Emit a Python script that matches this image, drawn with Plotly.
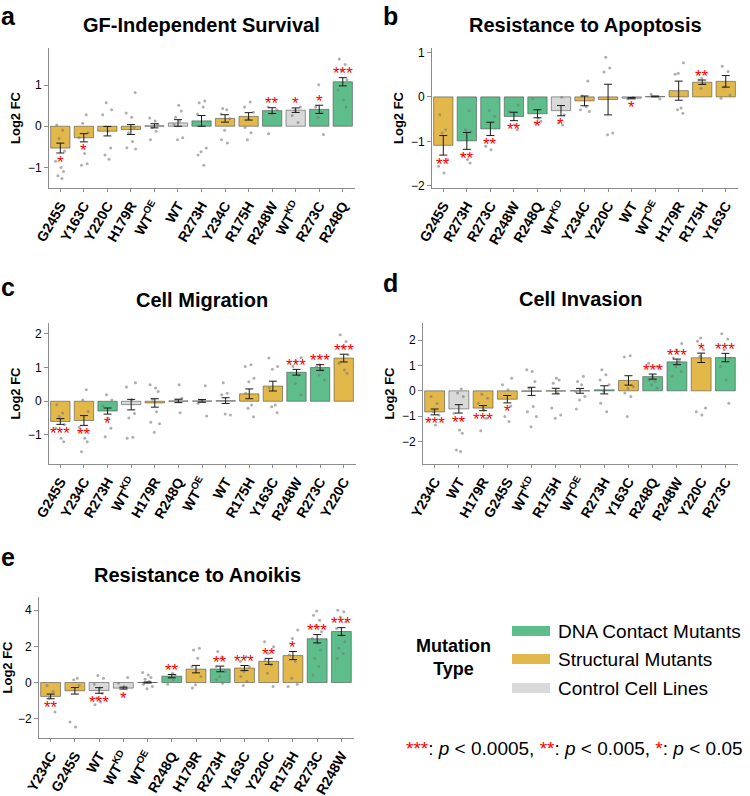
import plotly.graph_objects as go

W, H = 750, 796
FONT = "Liberation Sans, Arial, Helvetica, sans-serif"

GREEN = "#5DBE8B"
GOLD = "#E2B84B"
GREY = "#D9D9D9"
TYPE_COLOR = {"D": GREEN, "S": GOLD, "C": GREY}

# ---------------- data ----------------
a_title = "GF-Independent Survival"
a_labels = ["G245S", "Y163C", "Y220C", "H179R", "WT<sup>OE</sup>", "WT", "R273H", "Y234C",
            "R175H", "R248W", "WT<sup>KD</sup>", "R273C", "R248Q"]
a_types = ["S", "S", "S", "S", "C", "C", "D", "S", "S", "D", "C", "D", "D"]
a_mean = [-0.53, -0.28, -0.12, -0.08, 0.01, 0.08, 0.13, 0.19, 0.24, 0.38, 0.39, 0.41, 1.08]
a_sem = [0.12, 0.10, 0.115, 0.12, 0.05, 0.08, 0.13, 0.09, 0.09, 0.07, 0.055, 0.10, 0.10]
a_sig = ["*", "*", "", "", "", "", "", "", "", "**", "*", "*", "***"]
a_points = [
    [0.03, -0.1, -0.3, -0.6, -0.85, -1.0, -1.1, -1.2, -1.27],
    [0.28, 0.07, -0.16, -0.28, -0.66, -0.91, -0.95],
    [0.57, 0.4, 0.28, -0.12, -0.53, -0.7, -0.8],
    [0.82, 0.32, 0.22, -0.03, -0.16, -0.37, -0.52, -0.55],
    [0.2, 0.13, 0.05, -0.03, -0.12, -0.33],
    [0.51, 0.37, 0.22, 0.13, 0.05, -0.28, -0.33],
    [0.61, 0.57, 0.47, 0.3, -0.53, -0.62, -0.7, -0.95],
    [0.43, 0.4, 0.3, 0.18, -0.1, -0.33, -0.41],
    [0.59, 0.47, 0.34, 0.18, -0.03, -0.16, -0.33],
    [0.47, 0.4, 0.3, -0.18],
    [0.47, 0.38, 0.26, 0.09],
    [1.01, 0.47, 0.34, 0.22, -0.2],
    [1.63, 1.5, 1.34, 1.13, 0.88, 0.64, 0.47],
]

b_title = "Resistance to Apoptosis"
b_labels = ["G245S", "R273H", "R273C", "R248W", "R248Q", "WT<sup>KD</sup>", "Y234C", "Y220C",
            "WT", "WT<sup>OE</sup>", "H179R", "R175H", "Y163C"]
b_types = ["S", "D", "D", "D", "D", "C", "S", "S", "C", "C", "S", "S", "S"]
b_mean = [-1.09, -0.99, -0.72, -0.44, -0.38, -0.31, -0.09, -0.06, -0.03, 0.01, 0.14, 0.33, 0.35]
b_sem = [0.22, 0.19, 0.15, 0.095, 0.09, 0.115, 0.11, 0.345, 0.015, 0.01, 0.215, 0.05, 0.13]
b_sig = ["**", "**", "**", "**", "*", "*", "", "", "*", "", "", "**", ""]
b_points = [
    [-0.4, -0.74, -0.81, -1.41, -1.56, -1.71],
    [-0.31, -0.74, -0.78, -1.3, -1.41, -1.49],
    [-0.31, -0.44, -1.11, -1.19],
    [-0.18, -0.33, -0.63, -0.74],
    [-0.04, -0.48, -0.55, -0.59],
    [-0.01, -0.4, -0.59, -0.63],
    [0.36, 0.02, -0.22, -0.29, -0.33],
    [0.89, 0.65, 0.56, -0.81, -0.85],
    [-0.01, -0.04],
    [0.06, -0.05],
    [0.77, 0.53, 0.51, -0.25, -0.29, -0.37],
    [0.42, 0.38, 0.31, 0.19],
    [0.69, 0.57, 0.23, 0.04, -0.03],
]

c_title = "Cell Migration"
c_labels = ["G245S", "Y234C", "R273H", "WT<sup>KD</sup>", "H179R", "R248Q", "WT<sup>OE</sup>", "WT",
            "R175H", "Y163C", "R248W", "R273C", "Y220C"]
c_types = ["S", "S", "D", "C", "S", "S", "C", "C", "S", "S", "D", "D", "S"]
c_mean = [-0.6, -0.57, -0.29, -0.1, -0.05, 0.01, 0.01, 0.02, 0.22, 0.45, 0.86, 1.0, 1.28]
c_sem = [0.085, 0.145, 0.09, 0.155, 0.125, 0.05, 0.04, 0.085, 0.145, 0.145, 0.085, 0.085, 0.115]
c_sig = ["***", "**", "*", "", "", "", "", "", "", "", "***", "***", "***"]
c_points = [
    [-0.1, -0.35, -0.45, -0.7, -0.8, -1.1, -1.2],
    [0.34, 0.04, -0.3, -0.77, -1.1, -1.2, -1.5],
    [0.19, 0.04, -0.14, -0.5, -0.8, -1.05],
    [0.55, 0.42, 0.05, -0.36, -0.5, -1.07, -1.1],
    [0.49, 0.39, 0.29, 0.06, -0.31, -0.62, -0.67, -0.92],
    [0.49, 0.09, 0.04, -0.34],
    [0.46, 0.04, -0.01, -0.06, -0.44],
    [0.55, 0.24, 0.19, -0.41, -0.38],
    [1.08, 1.03, 0.68, 0.58, 0.24, -0.11, -0.21, -0.46],
    [1.28, 1.03, 0.95, 0.39, -0.11, -0.16, -0.34],
    [1.3, 1.18, 1.03, 0.78, 0.53, 0.19],
    [1.08, 1.03, 0.93, 0.78, 0.63],
    [1.97, 1.77, 1.62, 1.38, 1.13, 0.93, 0.83],
]

d_title = "Cell Invasion"
d_labels = ["Y234C", "WT", "H179R", "G245S", "WT<sup>KD</sup>", "R175H", "WT<sup>OE</sup>", "R273H",
            "Y163C", "R248Q", "R248W", "Y220C", "R273C"]
d_types = ["S", "C", "S", "S", "C", "S", "C", "D", "S", "D", "D", "S", "D"]
d_mean = [-0.83, -0.71, -0.68, -0.33, -0.02, -0.01, 0.0, 0.04, 0.41, 0.56, 1.14, 1.3, 1.31]
d_sem = [0.115, 0.165, 0.1, 0.145, 0.16, 0.11, 0.095, 0.16, 0.185, 0.1, 0.11, 0.185, 0.165]
d_sig = ["***", "**", "***", "*", "", "", "", "", "", "***", "***", "*", "***"]
d_points = [
    [-0.22, -0.5, -0.82, -0.95, -1.14, -1.34],
    [0.07, -0.09, -0.22, -0.88, -1.54, -1.67, -2.33, -2.39],
    [-0.13, -0.29, -0.49, -0.75, -1.08, -1.57],
    [0.5, 0.24, 0.04, -0.6, -1.01, -1.21],
    [0.83, 0.76, 0.37, 0.1, -0.62, -0.82, -1.01, -1.41],
    [0.5, 0.43, 0.3, -0.09, -0.68, -0.95, -1.08],
    [0.57, 0.37, 0.24, -0.03, -0.22, -0.36, -0.72],
    [0.83, 0.63, 0.43, 0.24, -0.03, -0.49, -0.82],
    [1.38, 1.33, 0.17, 0.1, -0.09, -0.22, -1.01],
    [1.09, 0.96, 0.57, 0.43, 0.37, 0.24, 0.1],
    [1.86, 1.62, 1.29, 1.16, 0.96, 0.76, 0.57],
    [2.08, 1.95, 1.62, 1.36, -0.68, -0.82, -0.95],
    [2.25, 2.04, 1.62, 1.29, 0.96, 0.43, -0.49],
]

e_title = "Resistance to Anoikis"
e_labels = ["Y234C", "G245S", "WT", "WT<sup>KD</sup>", "WT<sup>OE</sup>", "R248Q", "H179R", "R273H",
            "Y163C", "Y220C", "R175H", "R273C", "R248W"]
e_types = ["S", "S", "C", "C", "C", "D", "S", "D", "S", "S", "S", "D", "D"]
e_mean = [-0.77, -0.46, -0.44, -0.31, 0.0, 0.35, 0.74, 0.75, 0.8, 1.17, 1.49, 2.42, 2.82]
e_sem = [0.13, 0.18, 0.155, 0.055, 0.03, 0.09, 0.205, 0.155, 0.14, 0.165, 0.225, 0.23, 0.215]
e_sig = ["**", "", "***", "*", "", "**", "", "**", "***", "**", "*", "***", "***"]
e_points = [
    [-0.17, -0.5, -0.86, -1.63],
    [0.24, 0.15, -0.17, -2.18, -2.46],
    [0.39, 0.24, -0.09, -0.31, -0.59, -0.86, -1.08, -1.23],
    [0.28, -0.04, -0.22, -0.31],
    [0.55, 0.42, 0.28, 0.18, 0.06, -0.09, -0.22, -0.35],
    [0.51, 0.42, 0.28, 0.15, -0.09],
    [1.89, 1.8, 1.34, 0.88, 0.33, -0.13, -0.31],
    [1.71, 1.43, 0.88, 0.61, 0.33, 0.15, -0.04],
    [1.43, 1.16, 0.88, 0.61, 0.33, 0.06, -0.17],
    [2.26, 1.98, 1.61, 1.25, 0.97, 0.51, -0.22],
    [2.9, 2.44, 1.52, 1.16, 0.24, -0.09, -0.22],
    [3.96, 3.72, 3.45, 3.17, 2.81, 2.44, 2.17, 1.8, 1.34, 0.88, 0.42],
    [4.0, 3.91, 3.63, 3.36, 2.99, 2.62, 2.26, 1.89, 1.61, 1.34],
]

legend_labels = ["DNA Contact Mutants", "Structural Mutants", "Control Cell Lines"]
legend_types = ["D", "S", "C"]

# ---------------- layout (pixel boxes) ----------------
panels = [
    dict(letter="a", title=a_title, labels=a_labels, types=a_types, mean=a_mean, sem=a_sem,
         sig=a_sig, pts=a_points, box=(49, 355, 48, 188), yr=[-1.5, 1.9], yt=[-1, 0, 1],
         tpos=(202, 25), lpos=(-1, 16)),
    dict(letter="b", title=b_title, labels=b_labels, types=b_types, mean=b_mean, sem=b_sem,
         sig=b_sig, pts=b_points, box=(432, 738, 48, 188), yr=[-2.05, 1.1], yt=[-2, -1, 0, 1],
         tpos=(585, 25), lpos=(381, 16)),
    dict(letter="c", title=c_title, labels=c_labels, types=c_types, mean=c_mean, sem=c_sem,
         sig=c_sig, pts=c_points, box=(49, 356, 323, 464), yr=[-1.86, 2.32], yt=[-1, 0, 1, 2],
         tpos=(202, 300), lpos=(-1, 287)),
    dict(letter="d", title=d_title, labels=d_labels, types=d_types, mean=d_mean, sem=d_sem,
         sig=d_sig, pts=d_points, box=(423, 738, 323, 464), yr=[-2.88, 2.67], yt=[-2, -1, 0, 1, 2],
         tpos=(580, 299), lpos=(381, 283)),
    dict(letter="e", title=e_title, labels=e_labels, types=e_types, mean=e_mean, sem=e_sem,
         sig=e_sig, pts=e_points, box=(39, 354, 597, 738), yr=[-3.07, 4.73], yt=[-2, 0, 2, 4],
         tpos=(197, 575), lpos=(-1, 557)),
]

JITTER = [-0.15, 0.1, -0.05, 0.18, -0.2, 0.03, 0.14, -0.1, 0.07, -0.17, 0.2, -0.02]
AXC = "#8c8c8c"

def px(x):
    return x / W

def py(y):
    return 1 - y / H

fig = go.Figure()
annotations = []
shapes = []
layout = {}

for k, p in enumerate(panels):
    n = "" if k == 0 else str(k + 1)
    xa, ya = "x" + n, "y" + n
    ncat = len(p["labels"])
    xs = list(range(ncat))
    colors = [TYPE_COLOR[t] for t in p["types"]]

    fig.add_trace(go.Bar(
        x=xs, y=p["mean"], width=0.82, xaxis=xa, yaxis=ya,
        marker=dict(color=colors, line=dict(color="rgba(70,70,70,0.55)", width=1)),
        showlegend=False, hoverinfo="skip"))

    px_list, py_list = [], []
    for i, vals in enumerate(p["pts"]):
        for j, v in enumerate(vals):
            px_list.append(i + JITTER[(j + i) % len(JITTER)])
            py_list.append(v)
    fig.add_trace(go.Scatter(
        x=px_list, y=py_list, mode="markers", xaxis=xa, yaxis=ya,
        marker=dict(size=3, color="rgba(120,120,120,0.6)"),
        showlegend=False, hoverinfo="skip"))

    fig.add_trace(go.Scatter(
        x=xs, y=p["mean"], mode="markers", xaxis=xa, yaxis=ya,
        marker=dict(size=1, color="rgba(0,0,0,0)"),
        error_y=dict(type="data", array=p["sem"], color="#1a1a1a", thickness=1, width=4),
        showlegend=False, hoverinfo="skip"))

    for i, s in enumerate(p["sig"]):
        if not s:
            continue
        m, e = p["mean"][i], p["sem"][i]
        if m >= 0:
            annotations.append(dict(x=i, y=m + e, xref=xa, yref=ya, text=s, showarrow=False,
                                    yanchor="middle", yshift=4,
                                    font=dict(color="red", size=17, family=FONT)))
        else:
            annotations.append(dict(x=i, y=m - e, xref=xa, yref=ya, text=s, showarrow=False,
                                    yanchor="middle", yshift=-9,
                                    font=dict(color="red", size=17, family=FONT)))

    x0, x1, y0, y1 = p["box"]
    layout["xaxis" + n] = dict(
        domain=[px(x0), px(x1)], range=[-0.48, ncat - 0.48], anchor=ya, automargin=False,
        tickvals=xs, ticktext=p["labels"], tickangle=-60,
        tickfont=dict(size=14, family=FONT, color="black", weight="bold"),
        showline=True, linecolor=AXC, linewidth=1, ticks="outside", ticklen=3, tickcolor=AXC,
        showgrid=False, zeroline=False, fixedrange=True)
    layout["yaxis" + n] = dict(
        domain=[py(y1), py(y0)], range=p["yr"], anchor=xa, tickvals=p["yt"], automargin=False,
        tickfont=dict(size=12, family=FONT, color="black"),
        showline=True, linecolor=AXC, linewidth=1, ticks="outside", ticklen=4, tickcolor=AXC,
        showgrid=False, zeroline=False, fixedrange=True,
        title=dict(text="Log2 FC", font=dict(size=13, family=FONT, color="black", weight="bold"),
                   standoff=4))

    annotations.append(dict(x=px(p["tpos"][0]), y=py(p["tpos"][1]), xref="paper", yref="paper",
                            text="<b>%s</b>" % p["title"], showarrow=False,
                            xanchor="center", yanchor="middle",
                            font=dict(size=20, family=FONT, color="black")))
    annotations.append(dict(x=px(p["lpos"][0]), y=py(p["lpos"][1]), xref="paper", yref="paper",
                            text="<b>%s</b>" % p["letter"], showarrow=False,
                            xanchor="left", yanchor="middle",
                            font=dict(size=25, family=FONT, color="black")))

# legend block
annotations.append(dict(x=px(453), y=py(657), xref="paper", yref="paper",
                        text="<b>Mutation<br>Type</b>", showarrow=False,
                        xanchor="center", yanchor="middle",
                        font=dict(size=18, family=FONT, color="black")))
for r, (lab, t) in enumerate(zip(legend_labels, legend_types)):
    yc = [631, 659, 688][r]
    shapes.append(dict(type="rect", xref="paper", yref="paper",
                       x0=px(512), x1=px(550), y0=py(yc + 5), y1=py(yc - 5),
                       fillcolor=TYPE_COLOR[t], line=dict(width=0)))
    annotations.append(dict(x=px(556), y=py(yc), xref="paper", yref="paper", text=lab,
                            showarrow=False, xanchor="left", yanchor="middle",
                            font=dict(size=19, family=FONT, color="black")))

red = "<span style='color:red'>%s</span>"
foot = (red % "***") + ": <i>p</i> &lt; 0.0005, " + (red % "**") + ": <i>p</i> &lt; 0.005, " + \
       (red % "*") + ": <i>p</i> &lt; 0.05"
annotations.append(dict(x=px(404), y=py(748), xref="paper", yref="paper", text=foot,
                        showarrow=False, xanchor="left", yanchor="middle",
                        font=dict(size=19, family=FONT, color="black")))

fig.update_layout(template="none", width=W, height=H, margin=dict(l=0, r=0, t=0, b=0, pad=0),
                  plot_bgcolor="white", paper_bgcolor="white",
                  font=dict(family=FONT), annotations=annotations, shapes=shapes,
                  bargap=0.18, **layout)

fig.write_html("out.html", config={"displayModeBar": False},
               post_script="document.body.style.margin='0px';")
